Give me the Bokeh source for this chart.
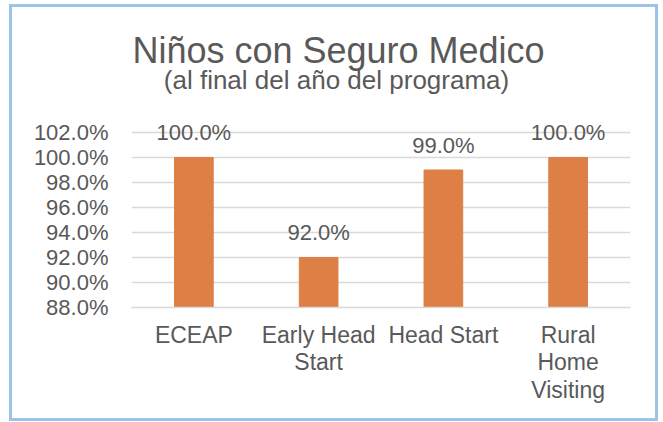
from bokeh.plotting import figure
from bokeh.models import ColumnDataSource, LabelSet, Label, Range1d, FixedTicker
from bokeh.core.properties import value
from bokeh.embed import file_html
from bokeh.resources import INLINE

# ---- data ----
categories = ["ECEAP", "Early Head\nStart", "Head Start", "Rural\nHome\nVisiting"]
values = [100.0, 92.0, 99.0, 100.0]
value_labels = ["100.0%", "92.0%", "99.0%", "100.0%"]
y_ticks = [88, 90, 92, 94, 96, 98, 100, 102]
y_tick_labels = ["88.0%", "90.0%", "92.0%", "94.0%", "96.0%", "98.0%", "100.0%", "102.0%"]
title_text = "Niños con Seguro Medico"
subtitle_text = "(al final del año del programa)"

FONT = "Liberation Sans"
TXT = "#595959"
GRID = "#D9D9D9"
BAR = "#DE7F45"

W, H = 649, 417
FRAME_H = 300          # pixel height of the frame (top of canvas to the 88% baseline)
PX_PER_UNIT = 12.5     # 25 px per 2 %
Y_TOP = y_ticks[0] + FRAME_H / PX_PER_UNIT   # frame reaches up to the canvas top (room for titles)

src = ColumnDataSource(dict(cat=categories, val=values, lbl=value_labels))

p = figure(x_range=categories, y_range=Range1d(y_ticks[0], Y_TOP),
           width=W, height=H, output_backend="svg", toolbar_location=None,
           title_location=None,
           min_border_left=119, min_border_right=31, min_border_top=0,
           min_border_bottom=H - FRAME_H)
p.styles = {"border": "3px solid #9DC3E6", "margin-left": "9px", "margin-top": "4px"}
p.outline_line_color = None
p.background_fill_color = "white"
p.border_fill_color = "white"

p.vbar(x="cat", top="val", bottom=y_ticks[0], width=0.31, source=src,
       fill_color=BAR, line_color=BAR)

labels = LabelSet(x="cat", y="val", text="lbl", source=src, y_offset=25,
                  text_align="center", text_baseline="middle",
                  text_font=value(FONT), text_font_size="22px", text_color=TXT)
p.add_layout(labels)

# grid
p.xgrid.grid_line_color = None
p.ygrid.grid_line_color = GRID
p.ygrid.grid_line_width = 1.5

# y axis
p.yaxis.ticker = FixedTicker(ticks=y_ticks)
p.yaxis.major_label_overrides = dict(zip(y_ticks, y_tick_labels))
p.yaxis.axis_line_color = None
p.yaxis.major_tick_line_color = None
p.yaxis.minor_tick_line_color = None
p.yaxis.major_label_standoff = 17
p.yaxis.major_label_text_font = FONT
p.yaxis.major_label_text_font_size = "22px"
p.yaxis.major_label_text_color = TXT

# x axis
p.xaxis.axis_line_color = GRID
p.xaxis.axis_line_width = 1.5
p.xaxis.major_tick_line_color = None
p.xaxis.minor_tick_line_color = None
p.xaxis.major_label_standoff = 8
p.xaxis.major_label_text_font = FONT
p.xaxis.major_label_text_font_size = "23px"
p.xaxis.major_label_text_line_height = 1.06
p.xaxis.major_label_text_color = TXT

# titles, placed in screen pixels relative to the frame
p.add_layout(Label(text=title_text, x=207, y=257, x_units="screen", y_units="screen",
                   text_align="center", text_baseline="middle",
                   text_font=FONT, text_font_size="36px", text_color=TXT))
p.add_layout(Label(text=subtitle_text, x=205, y=228, x_units="screen", y_units="screen",
                   text_align="center", text_baseline="middle",
                   text_font=FONT, text_font_size="26px", text_color=TXT))

open("out.html", "w").write(file_html(p, INLINE))
